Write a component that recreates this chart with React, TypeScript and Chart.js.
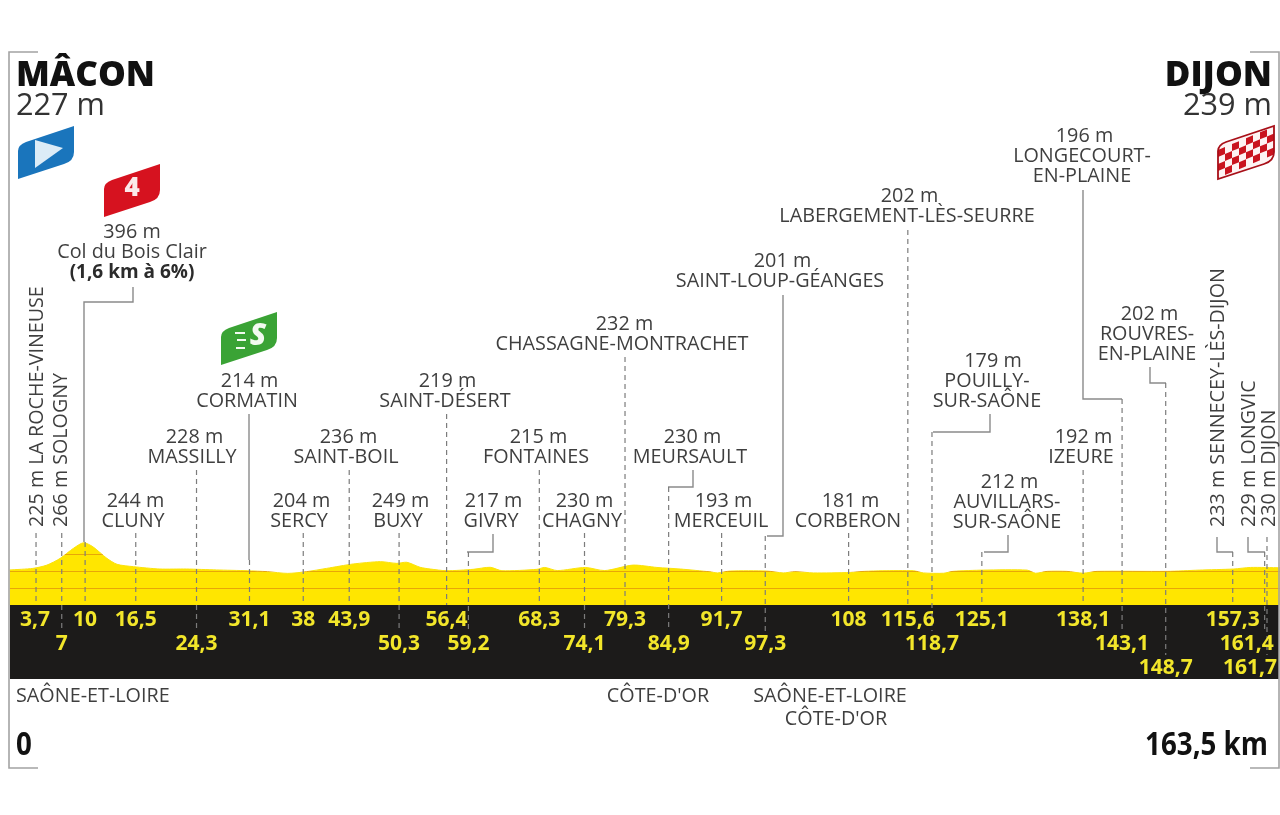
import React, { useEffect, useRef } from "react";
import { Chart, registerables } from "chart.js";

Chart.register(...registerables);

// ---- profile series (km, metres)
const profileKm = [0.3, 3.3, 5.1, 6.8, 8.5, 9.8, 11, 12.8, 14.1, 16.2, 19.6, 23, 26.9, 30.8, 33.4, 36, 38.4, 41, 44.4, 47.9, 50, 51.3, 53, 54.3, 56.4, 59.8, 62, 63.5, 68, 69, 70.6, 74.2, 76.7, 80.3, 83.4, 86.4, 90.2, 91.2, 92.8, 97.5, 99.6, 101.1, 103.5, 108.2, 110, 112.4, 116.3, 117.6, 120.2, 121.4, 125.3, 130.9, 132, 133.5, 136, 138.1, 139.9, 148.9, 153, 157.4, 159.6, 163.4];
const profileAlt = [224, 234, 255, 298, 362, 398, 372, 298, 260, 245, 230, 230, 224, 219, 213, 202, 213, 234, 262, 277, 266, 273, 241, 230, 219, 228, 241, 219, 228, 240, 220, 240, 220, 255, 240, 230, 212, 205, 217, 217, 205, 213, 205, 208, 215, 219, 219, 205, 203, 215, 223, 223, 203, 215, 215, 203, 215, 215, 223, 230, 240, 238];
const gridAlt = [109, 217, 326];

// ---- waypoints
const wayKm = [3.7, 7, 10, 16.5, 24.3, 31.1, 38, 43.9, 50.3, 56.4, 59.2, 68.3, 74.1, 79.3, 84.9, 91.7, 97.3, 108, 115.6, 118.7, 125.1, 138.1, 143.1, 148.7, 157.3, 161.4, 161.7];
const wayKmText = ["3,7", "7", "10", "16,5", "24,3", "31,1", "38", "43,9", "50,3", "56,4", "59,2", "68,3", "74,1", "79,3", "84,9", "91,7", "97,3", "108", "115,6", "118,7", "125,1", "138,1", "143,1", "148,7", "157,3", "161,4", "161,7"];
const wayAlt = ["225 m", "266 m", "396 m", "244 m", "228 m", "214 m", "204 m", "236 m", "249 m", "219 m", "217 m", "215 m", "230 m", "232 m", "230 m", "193 m", "201 m", "181 m", "202 m", "179 m", "212 m", "192 m", "196 m", "202 m", "233 m", "229 m", "230 m"];
const wayNames = [
  ["LA ROCHE-VINEUSE"], ["SOLOGNY"], ["Col du Bois Clair"], ["CLUNY"], ["MASSILLY"], ["CORMATIN"], ["SERCY"], ["SAINT-BOIL"], ["BUXY"], ["SAINT-DÉSERT"], ["GIVRY"], ["FONTAINES"], ["CHAGNY"], ["CHASSAGNE-MONTRACHET"], ["MEURSAULT"], ["MERCEUIL"], ["SAINT-LOUP-GÉANGES"], ["CORBERON"], ["LABERGEMENT-LÈS-SEURRE"], ["POUILLY-", "SUR-SAÔNE"], ["AUVILLARS-", "SUR-SAÔNE"], ["IZEURE"], ["LONGECOURT-", "EN-PLAINE"], ["ROUVRES-", "EN-PLAINE"], ["SENNECEY-LÈS-DIJON"], ["LONGVIC"], ["DIJON"],
];
const climbNote = "(1,6 km à 6%)";

const startName = "MÂCON";
const startAlt = "227 m";
const finishName = "DIJON";
const finishAlt = "239 m";
const totalStart = "0";
const totalEnd = "163,5 km";

// ---- layout of the annotations (pixels on the page)
const wayRow = [0, 1, 0, 0, 1, 0, 0, 0, 1, 0, 1, 0, 1, 0, 1, 0, 1, 0, 0, 1, 0, 0, 1, 2, 0, 1, 2];
const wayLabelShift = [-1, 0, 0, 0, 0, 0, 0, 0, 0, 0, 0, 0, 0, 0, 0, 0, 0, 0, 0, 0, 0, 0, 0, 0, 0, -18, -17];
// [centre x, y of first line centre]; rotated ones: [centre x, bottom y]
const labelPos: [number, number][] = [
  [37, 527], [61, 527], [132, 232], [133, 501], [192, 437], [247, 381], [299, 501], [346, 437], [398, 501], [445, 381], [491, 501], [536, 437], [582, 501], [622, 324], [690, 437], [721, 501], [780, 261], [848, 501], [907, 196], [987, 361], [1007, 482], [1081, 437], [1082, 136], [1147, 314], [1218, 527], [1249, 527], [1269, 527],
];
const altShift = (i: number) => (i === 2 ? 0 : i === 19 ? 6 : 2.5);
const rotatedIdx = [0, 1, 24, 25, 26];
// solid parts above the dashes; the final x always comes from the km scale
const solidPath: Record<number, [number, number][]> = {
  2: [[133, 287], [133, 302], [84, 302], [84, 542]],
  5: [[249, 414], [249, 560]],
  10: [[493, 534], [493, 552], [467, 552]],
  14: [[693, 470], [693, 487], [668, 487]],
  16: [[783, 295], [783, 536], [767, 536]],
  19: [[990, 414], [990, 432], [933, 432]],
  20: [[1008, 535], [1008, 552], [984, 552]],
  22: [[1083, 190], [1083, 399], [1122, 399]],
  23: [[1150, 367], [1150, 383], [1166, 383]],
  24: [[1217, 537], [1217, 552], [1233, 552]],
  25: [[1248, 537], [1248, 552], [1265, 552]],
};
const dashTop = [533, 533, 0, 533, 470, 0, 533, 470, 533, 414, 0, 470, 533, 357, 0, 533, 0, 533, 230, 0, 0, 470, 0, 0, 0, 0, 537];

const deptLeft = "SAÔNE-ET-LOIRE";
const deptMiddle = "CÔTE-D'OR";
const deptPair = ["SAÔNE-ET-LOIRE", "CÔTE-D'OR"];

const FONT = '"Open Sans"';
const INK = "#3f3f3f";

function flagPath(c: CanvasRenderingContext2D, x: number, yB: number) {
  c.beginPath();
  c.moveTo(x, yB);
  c.lineTo(x, yB - 28);
  c.quadraticCurveTo(x, yB - 34, x + 8, yB - 37);
  c.lineTo(x + 56, yB - 53);
  c.lineTo(x + 56, yB - 27);
  c.quadraticCurveTo(x + 56, yB - 18, x + 46, yB - 15);
  c.closePath();
}

const decoPlugin = {
  id: "stageDeco",
  afterDatasetsDraw(chart: any) {
    const c: CanvasRenderingContext2D = chart.ctx;
    const xs = chart.scales.x;
    const ys = chart.scales.y;
    const bandTop = ys.getPixelForValue(0);
    const bandH = 74;
    c.save();

    // gridlines only on the yellow fill
    c.globalCompositeOperation = "source-atop";
    c.strokeStyle = "rgba(226,150,10,0.8)";
    c.lineWidth = 1;
    gridAlt.forEach((a) => {
      const y = Math.round(ys.getPixelForValue(a)) + 0.5;
      c.beginPath(); c.moveTo(0, y); c.lineTo(1280, y); c.stroke();
    });
    c.globalCompositeOperation = "source-over";

    // black band
    c.fillStyle = "#1c1b1a";
    c.fillRect(10, bandTop, 1269, bandH);

    // frame corners
    c.strokeStyle = "#a3a3a3";
    c.lineWidth = 1.6;
    c.beginPath();
    c.moveTo(38, 52); c.lineTo(9, 52); c.lineTo(9, 768); c.lineTo(38, 768);
    c.moveTo(1250, 52); c.lineTo(1279, 52); c.lineTo(1279, 768); c.lineTo(1250, 768);
    c.stroke();

    // leaders
    wayKm.forEach((km, i) => {
      const x = xs.getPixelForValue(km);
      const solid = solidPath[i];
      let top = dashTop[i];
      if (solid) {
        c.setLineDash([]);
        c.strokeStyle = "#8a8a8a";
        c.lineWidth = 1.4;
        c.beginPath();
        solid.forEach(([px, py], k) => (k ? c.lineTo(px, py) : c.moveTo(px, py)));
        c.stroke();
        top = solid[solid.length - 1][1];
      }
      const bottom = bandTop + [0, 26, 50][wayRow[i]];
      c.setLineDash([5, 4]);
      c.lineWidth = 1.2;
      c.strokeStyle = "#7c7c7c";
      c.beginPath(); c.moveTo(x, top); c.lineTo(x, bottom); c.stroke();
    });
    c.setLineDash([]);

    // km labels in the band
    c.textAlign = "center";
    c.textBaseline = "middle";
    c.font = `700 21px ${FONT}`;
    c.fillStyle = "#f2e62a";
    wayKmText.forEach((t, i) => {
      const x = xs.getPixelForValue(wayKm[i]) + wayLabelShift[i];
      c.fillText(t, x, bandTop + 15 + wayRow[i] * 24);
    });

    // waypoint labels
    c.fillStyle = INK;
    wayAlt.forEach((alt, i) => {
      const [px, py] = labelPos[i];
      if (rotatedIdx.includes(i)) {
        c.save();
        c.translate(px, py);
        c.rotate(-Math.PI / 2);
        c.textAlign = "left";
        c.textBaseline = "middle";
        c.font = `400 19.7px ${FONT}`;
        c.fillText(`${alt} ${wayNames[i][0]}`, 0, 0);
        c.restore();
        return;
      }
      c.textAlign = "center";
      c.textBaseline = "middle";
      c.font = `400 19.8px ${FONT}`;
      c.fillText(alt, px + altShift(i), py);
      wayNames[i].forEach((n, k) => c.fillText(n, px, py + 20 * (k + 1)));
      if (i === 2) {
        c.font = `700 19px ${FONT}`;
        c.fillStyle = "#2b2b2b";
        c.fillText(climbNote, px, py + 41);
        c.fillStyle = INK;
      }
    });

    // start and finish
    c.fillStyle = "#111";
    c.textBaseline = "alphabetic";
    c.font = `800 35px ${FONT}`;
    c.textAlign = "left";
    c.fillText(startName, 16, 86);
    c.textAlign = "right";
    c.fillText(finishName, 1272, 86);
    c.fillStyle = "#333";
    c.font = `400 30.7px ${FONT}`;
    c.textAlign = "left";
    c.fillText(startAlt, 16, 115);
    c.textAlign = "right";
    c.fillText(finishAlt, 1272, 115);

    // departments
    c.fillStyle = INK;
    c.textBaseline = "middle";
    c.font = `400 19.8px ${FONT}`;
    c.textAlign = "left";
    c.fillText(deptLeft, 16, 696);
    c.textAlign = "center";
    c.fillText(deptMiddle, 658, 696);
    c.fillText(deptPair[0], 830, 696);
    c.fillText(deptPair[1], 836, 719);

    // totals (narrow type)
    c.fillStyle = "#111";
    c.textBaseline = "alphabetic";
    c.font = `700 33px ${FONT}`;
    c.textAlign = "left";
    c.save(); c.translate(16, 755); c.scale(0.84, 1); c.fillText(totalStart, 0, 0); c.restore();
    c.textAlign = "right";
    c.save(); c.translate(1268, 755); c.scale(0.84, 1); c.fillText(totalEnd, 0, 0); c.restore();

    // flags
    flagPath(c, 18, 179);
    c.fillStyle = "#1a75bc"; c.fill();
    c.fillStyle = "#dcecf7";
    c.beginPath(); c.moveTo(35, 140); c.lineTo(63, 148); c.lineTo(35, 168); c.closePath(); c.fill();

    flagPath(c, 104, 217);
    c.fillStyle = "#d6121f"; c.fill();
    c.fillStyle = "#fbeaea";
    c.font = `800 26px ${FONT}`;
    c.textAlign = "center";
    c.textBaseline = "middle";
    c.fillText("4", 132, 189);

    flagPath(c, 221, 365);
    c.fillStyle = "#3aa335"; c.fill();
    c.fillStyle = "#f2faf0";
    c.font = `italic 800 30px ${FONT}`;
    c.fillText("S", 258, 336);
    c.fillRect(235, 332, 10, 2); c.fillRect(237, 339, 9, 2); c.fillRect(236, 347, 9, 2);

    c.save();
    flagPath(c, 1218, 179);
    c.fillStyle = "#fdf3f3"; c.fill();
    c.clip();
    c.transform(1, -0.42, 0, 1, 1218, 150);
    c.fillStyle = "#c9141f";
    for (let col = 0; col < 8; col++) {
      for (let row = 0; row < 4; row++) {
        if ((col + row) % 2 === 0) c.fillRect(col * 7, row * 7, 7, 7);
      }
    }
    c.restore();
    flagPath(c, 1218, 179);
    c.strokeStyle = "#a80f18"; c.lineWidth = 1.8; c.stroke();

    c.restore();
  },
};

export default function App() {
  const ref = useRef<HTMLCanvasElement>(null);
  useEffect(() => {
    const chart = new Chart(ref.current!, {
      type: "line",
      data: {
        datasets: [
          {
            data: profileKm.map((x, i) => ({ x, y: profileAlt[i] })),
            fill: "origin",
            backgroundColor: "#ffe600",
            borderColor: "#fbe20c",
            borderWidth: 1,
            pointRadius: 0,
            tension: 0.25,
          },
        ],
      },
      options: {
        animation: false,
        responsive: false,
        events: [],
        layout: { padding: { left: 7.2, right: 0, top: 0, bottom: 210 } },
        plugins: { legend: { display: false }, tooltip: { enabled: false } },
        scales: {
          x: { type: "linear", display: false, min: 0, max: 163.37 },
          y: { type: "linear", display: false, min: 0, max: 3866 },
        },
      },
      plugins: [decoPlugin],
    });
    return () => chart.destroy();
  }, []);
  return (
    <canvas
      ref={ref}
      width={1280}
      height={815}
      style={{ position: "fixed", left: 0, top: 0, display: "block" }}
    />
  );
}
